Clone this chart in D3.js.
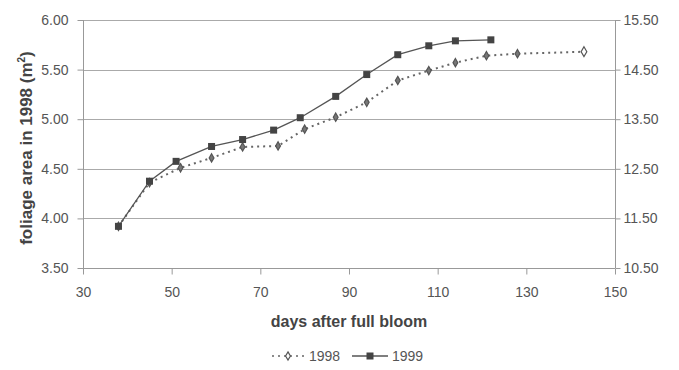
<!DOCTYPE html>
<html>
<head>
<meta charset="utf-8">
<script src="https://cdn.jsdelivr.net/npm/d3@7"></script>
<style>
  body { margin: 0; background: #fff; }
  svg { display: block; font-family: "Liberation Sans", Arial, sans-serif; }
  .axis text { fill: #555; font-size: 14px; }
  .axis path, .axis line { stroke: #999; }
</style>
</head>
<body>
<div class="container-chart"></div>
<script>
/* --------------------------------------------------------- */
/* DATA                                                      */
/* --------------------------------------------------------- */
// 1998: days after full bloom and foliage area (left axis)
const days1998 = [38, 45, 52, 59, 66, 74, 80, 87, 94, 101, 108, 114, 121, 128, 143];
const area1998 = [3.92, 4.36, 4.51, 4.61, 4.72, 4.73, 4.90, 5.02, 5.17, 5.39, 5.49, 5.57, 5.64, 5.66, 5.68];

// 1999: days after full bloom and foliage area (right axis)
const days1999 = [38, 45, 51, 59, 66, 73, 79, 87, 94, 101, 108, 114, 122];
const area1999 = [11.34, 12.25, 12.65, 12.95, 13.09, 13.28, 13.53, 13.96, 14.40, 14.80, 14.98, 15.08, 15.10];

const xTicks = [30, 50, 70, 90, 110, 130, 150];
const leftTicks = [3.5, 4.0, 4.5, 5.0, 5.5, 6.0];
const rightTicks = [10.5, 11.5, 12.5, 13.5, 14.5, 15.5];
const seriesNames = ["1998", "1999"];

/* --------------------------------------------------------- */
/* DRAW CHART                                                */
/* --------------------------------------------------------- */
const width = 679, height = 370;
const plot = { left: 83, right: 615, top: 20, bottom: 268 };

const svg = d3.select(".container-chart")
    .append("svg")
    .attr("width", width)
    .attr("height", height);

const x = d3.scaleLinear().domain([30, 150]).range([plot.left, plot.right]);
const yLeft = d3.scaleLinear().domain([3.5, 6.0]).range([plot.bottom, plot.top]);
const yRight = d3.scaleLinear().domain([10.5, 15.5]).range([plot.bottom, plot.top]);

// gridlines
svg.append("g")
    .selectAll("line")
    .data(leftTicks.slice(1))
    .enter()
    .append("line")
    .attr("x1", plot.left)
    .attr("x2", plot.right)
    .attr("y1", d => Math.round(yLeft(d)) + 0.5)
    .attr("y2", d => Math.round(yLeft(d)) + 0.5)
    .attr("stroke", "#aaa")
    .attr("stroke-width", 1);

// axes
svg.append("g")
    .attr("class", "axis")
    .attr("transform", `translate(0,${plot.bottom + 0.5})`)
    .call(d3.axisBottom(x).tickValues(xTicks).tickSize(6).tickPadding(13).tickFormat(d3.format("d")))
    .call(g => g.select(".domain").attr("d", `M${plot.left},0H${plot.right}`));

svg.append("g")
    .attr("class", "axis")
    .attr("transform", `translate(${plot.left + 0.5},0)`)
    .call(d3.axisLeft(yLeft).tickValues(leftTicks).tickSize(6).tickPadding(9).tickFormat(d3.format(".2f")))
    .call(g => g.select(".domain").attr("d", `M0,${plot.top}V${plot.bottom}`));

svg.append("g")
    .attr("class", "axis")
    .attr("transform", `translate(${plot.right + 0.5},0)`)
    .call(d3.axisRight(yRight).tickValues(rightTicks).tickSize(5).tickPadding(3).tickFormat(d3.format(".2f")))
    .call(g => g.select(".domain").attr("d", `M0,${plot.top}V${plot.bottom}`));

// axis titles
svg.append("text")
    .attr("x", 349)
    .attr("y", 327)
    .attr("text-anchor", "middle")
    .attr("font-size", 16)
    .attr("font-weight", "bold")
    .attr("fill", "#444")
    .text("days after full bloom");

const yTitle = svg.append("text")
    .attr("transform", "translate(32,148) rotate(-90)")
    .attr("text-anchor", "middle")
    .attr("font-size", 17)
    .attr("font-weight", "bold")
    .attr("fill", "#444");
yTitle.append("tspan").text("foliage area in 1998 (m");
yTitle.append("tspan").attr("font-size", 10).attr("dy", -7).text("2");
yTitle.append("tspan").attr("dy", 7).text(")");

// series
const data1998 = days1998.map((d, i) => ({ x: d, y: area1998[i] }));
const data1999 = days1999.map((d, i) => ({ x: d, y: area1999[i] }));

const line1998 = d3.line().x(d => x(d.x)).y(d => yLeft(d.y));
const line1999 = d3.line().x(d => x(d.x)).y(d => yRight(d.y));

svg.append("path")
    .datum(data1998)
    .attr("d", line1998)
    .attr("fill", "none")
    .attr("stroke", "#666")
    .attr("stroke-width", 2)
    .attr("stroke-dasharray", "2,4");

svg.append("path")
    .datum(data1999)
    .attr("d", line1999)
    .attr("fill", "none")
    .attr("stroke", "#555")
    .attr("stroke-width", 1.3);

const diamond = d3.symbol().type(d3.symbolDiamond).size(20);
const bigDiamond = d3.symbol().type(d3.symbolDiamond).size(28);

svg.append("g")
    .selectAll("path")
    .data(data1998)
    .enter()
    .append("path")
    .attr("d", (d, i) => i === data1998.length - 1 ? bigDiamond() : diamond())
    .attr("transform", d => `translate(${x(d.x)},${yLeft(d.y)})`)
    .attr("fill", (d, i) => i === data1998.length - 1 ? "#fff" : "#777")
    .attr("stroke", "#555")
    .attr("stroke-width", 1.2);

svg.append("g")
    .selectAll("rect")
    .data(data1999)
    .enter()
    .append("rect")
    .attr("x", d => x(d.x) - 3.5)
    .attr("y", d => yRight(d.y) - 3.5)
    .attr("width", 7)
    .attr("height", 7)
    .attr("fill", "#444");

// legend
const legend = svg.append("g").attr("transform", "translate(0,356)");

legend.append("line")
    .attr("x1", 272).attr("x2", 305)
    .attr("stroke", "#666").attr("stroke-width", 1.6)
    .attr("stroke-dasharray", "2,4");
legend.append("path")
    .attr("d", diamond)
    .attr("transform", "translate(288,0)")
    .attr("fill", "#fff").attr("stroke", "#555").attr("stroke-width", 1.2);
legend.append("text")
    .attr("x", 309).attr("y", 5)
    .attr("font-size", 14).attr("fill", "#555")
    .text(seriesNames[0]);

legend.append("line")
    .attr("x1", 352).attr("x2", 388)
    .attr("stroke", "#555").attr("stroke-width", 1.3);
legend.append("rect")
    .attr("x", 366.5).attr("y", -3.5).attr("width", 7).attr("height", 7)
    .attr("fill", "#444");
legend.append("text")
    .attr("x", 392).attr("y", 5)
    .attr("font-size", 14).attr("fill", "#555")
    .text(seriesNames[1]);
</script>
</body>
</html>
